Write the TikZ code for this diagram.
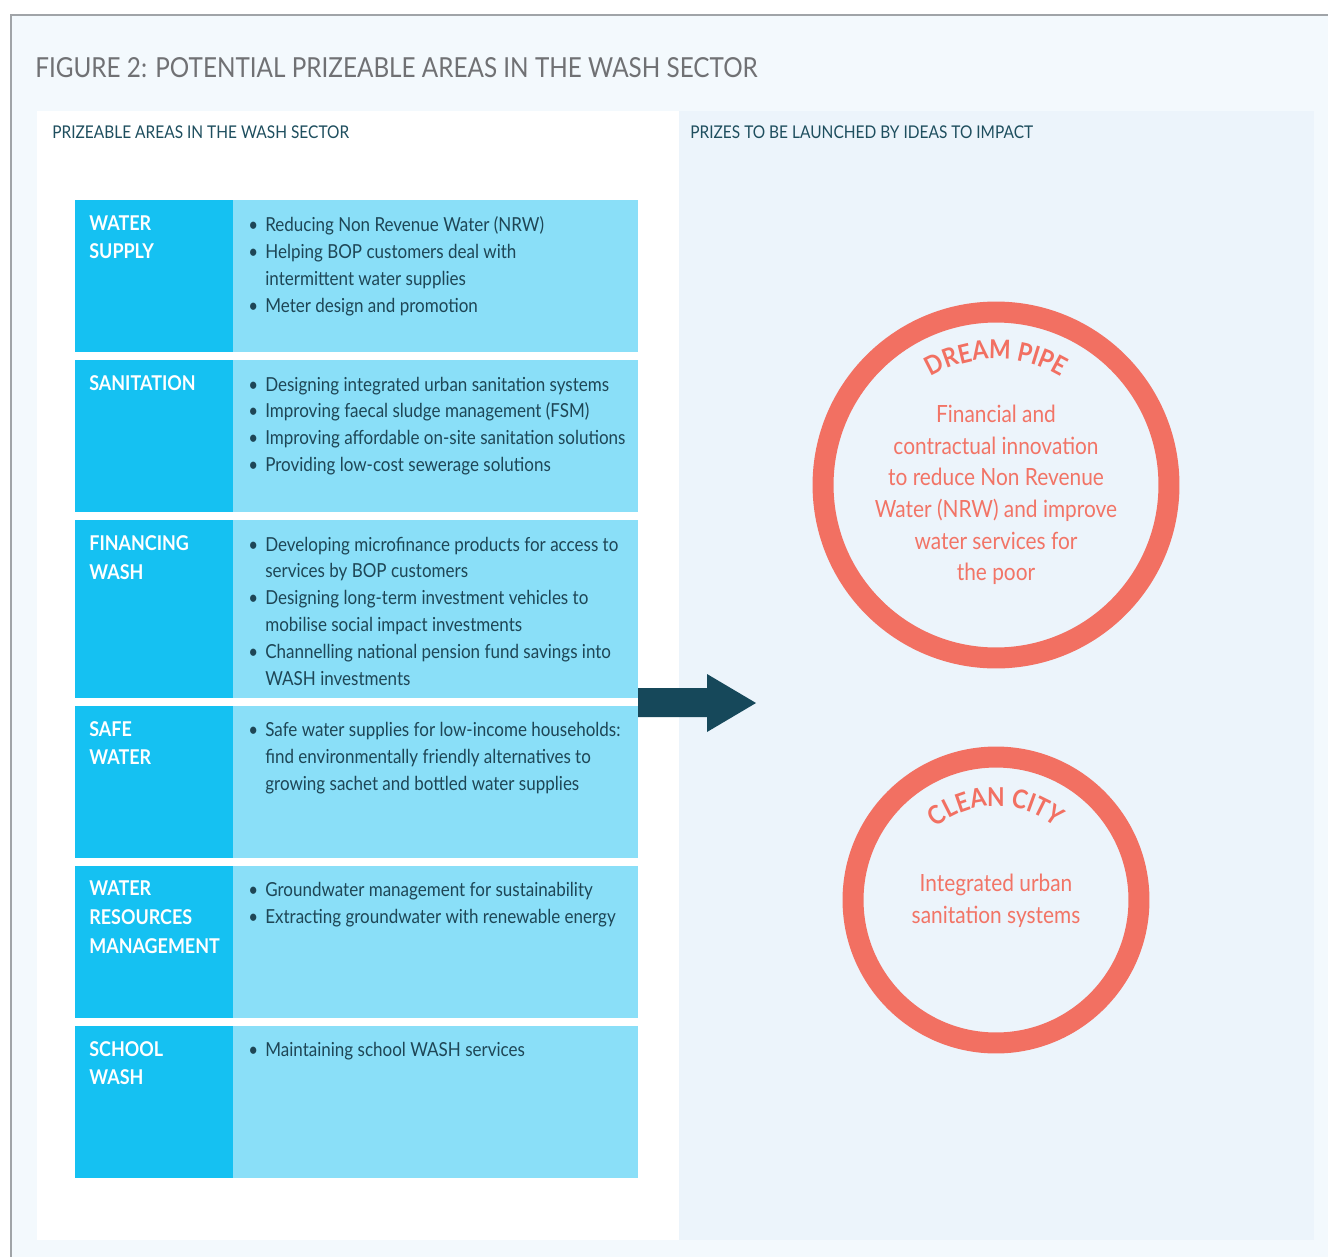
\documentclass[tikz,border=0pt]{standalone}
\usepackage{fontspec}
\setmainfont{Lato}[FakeStretch=0.88]
\usepackage{tikz}
\usetikzlibrary{positioning}
\usetikzlibrary{decorations.text}

\definecolor{outerbg}{HTML}{F3F9FD}
\definecolor{framegray}{HTML}{A0A4A8}
\definecolor{prizebg}{HTML}{ECF4FB}
\definecolor{areadark}{HTML}{15C1F2}
\definecolor{arealight}{HTML}{8ADFF8}
\definecolor{itemtext}{HTML}{1E4656}
\definecolor{titlegray}{HTML}{707174}
\definecolor{subtext}{HTML}{1E4E5E}
\definecolor{coral}{HTML}{F27062}
\definecolor{coraltext}{HTML}{F27466}
\definecolor{arrowteal}{HTML}{16485A}

% bullet and hanging indent for the item lists
\newcommand{\itm}{\makebox[0.34cm][l]{\textbullet}}
\newcommand{\cnt}{\hspace*{0.34cm}}

\begin{document}
\begin{tikzpicture}[x=0.02cm,y=0.02cm,
  area/.style={rectangle,fill=areadark,inner sep=0pt,outer sep=0pt,minimum width=3.16cm,minimum height=3.04cm},
  items/.style={rectangle,fill=arealight,inner sep=0pt,outer sep=0pt,minimum width=8.1cm,anchor=west},
  areatxt/.style={anchor=north west,inner sep=0pt,align=left,text=white,font=\fontsize{11.6}{16.4}\selectfont\bfseries},
  itemtxt/.style={anchor=north west,inner sep=0pt,align=left,text=itemtext,font=\fontsize{11}{15.3}\selectfont},
  subhead/.style={anchor=west,inner sep=0pt,text=subtext,font=\fontsize{10}{12}\selectfont},
  prize/.style={circle,draw=coral,line width=0.42cm,inner sep=0pt},
  prizetxt/.style={align=center,inner sep=0pt,text=coraltext,font=\fontsize{13.5}{18}\selectfont}]

  \useasboundingbox (0,0) rectangle (1328,-1257);

  % background and panels
  \fill[outerbg] (11,-15) rectangle (1340,-1270);
  \draw[framegray,line width=0.03cm] (11,-1270) -- (11,-15) -- (1340,-15);
  \fill[white] (37,-111) rectangle (679,-1240);
  \fill[prizebg] (679,-111) rectangle (1314,-1240);

  \node[anchor=base west,inner sep=0pt,text=titlegray,font=\fontsize{15.7}{18}\selectfont] (title) at (35,-78)
    {FIGURE 2: POTENTIAL PRIZEABLE AREAS IN THE WASH SECTOR};
  \node[subhead] (lefthead) at (52,-132) {PRIZEABLE AREAS IN THE WASH SECTOR};
  \node[subhead] (righthead) at (690,-132) {PRIZES TO BE LAUNCHED BY IDEAS TO IMPACT};

  % rows
  \node[area,anchor=north west] (ws) at (75,-200) {};
  \node[items,minimum height=3.04cm,right=0pt of ws] (wsi) {};
  \node[area,below=0.16cm of ws] (san) {};
  \node[items,minimum height=3.04cm,right=0pt of san] (sani) {};
  \node[area,minimum height=3.56cm,below=0.16cm of san] (fin) {};
  \node[items,minimum height=3.56cm,right=0pt of fin] (fini) {};
  \node[area,below=0.16cm of fin] (sw) {};
  \node[items,minimum height=3.04cm,right=0pt of sw] (swi) {};
  \node[area,below=0.16cm of sw] (wrm) {};
  \node[items,minimum height=3.04cm,right=0pt of wrm] (wrmi) {};
  \node[area,below=0.16cm of wrm] (sch) {};
  \node[items,minimum height=3.04cm,right=0pt of sch] (schi) {};

  \node[areatxt,below right=0.3cm and 0.28cm of ws.north west] (wst) {WATER\\SUPPLY};
  \node[itemtxt,below right=0.33cm and 0.3cm of wsi.north west] (wsit)
    {\itm Reducing Non Revenue Water (NRW)\\
     \itm Helping BOP customers deal with\\
     \cnt intermittent water supplies\\
     \itm Meter design and promotion};

  \node[areatxt,below right=0.3cm and 0.28cm of san.north west] (sant) {SANITATION};
  \node[itemtxt,below right=0.33cm and 0.3cm of sani.north west] (sanit)
    {\itm Designing integrated urban sanitation systems\\
     \itm Improving faecal sludge management (FSM)\\
     \itm Improving affordable on-site sanitation solutions\\
     \itm Providing low-cost sewerage solutions};

  \node[areatxt,below right=0.3cm and 0.28cm of fin.north west] (fint) {FINANCING\\WASH};
  \node[itemtxt,below right=0.33cm and 0.3cm of fini.north west] (finit)
    {\itm Developing microfinance products for access to\\
     \cnt services by BOP customers\\
     \itm Designing long-term investment vehicles to\\
     \cnt mobilise social impact investments\\
     \itm Channelling national pension fund savings into\\
     \cnt WASH investments};

  \node[areatxt,below right=0.3cm and 0.28cm of sw.north west] (swt) {SAFE\\WATER};
  \node[itemtxt,below right=0.33cm and 0.3cm of swi.north west] (swit)
    {\itm Safe water supplies for low-income households:\\
     \cnt find environmentally friendly alternatives to\\
     \cnt growing sachet and bottled water supplies};

  \node[areatxt,below right=0.3cm and 0.28cm of wrm.north west] (wrmt) {WATER\\RESOURCES\\MANAGEMENT};
  \node[itemtxt,below right=0.33cm and 0.3cm of wrmi.north west] (wrmit)
    {\itm Groundwater management for sustainability\\
     \itm Extracting groundwater with renewable energy};

  \node[areatxt,below right=0.3cm and 0.28cm of sch.north west] (scht) {SCHOOL\\WASH};
  \node[itemtxt,below right=0.33cm and 0.3cm of schi.north west] (schit)
    {\itm Maintaining school WASH services};

  % big arrow towards the prizes
  \fill[arrowteal] (638,-688) -- (707,-688) -- (707,-674) -- (756,-703) -- (707,-732) -- (707,-717) -- (638,-717) -- cycle;

  % prizes
  \node[prize,minimum size=6.92cm] (dp) at (996,-485) {};
  \node[prize,minimum size=5.72cm] (cc) at (996,-900) {};
  \path[decorate,decoration={text along path,text align=center,text color=coral,
    text={|\fontsize{14.8}{18}\selectfont\bfseries|DREAM PIPE}}]
    ([shift={(150:2.52cm)}]dp.center) arc (150:30:2.52cm);
  \path[decorate,decoration={text along path,text align=center,text color=coral,
    text={|\fontsize{14.8}{18}\selectfont\bfseries|CLEAN CITY}}]
    ([shift={(160:1.88cm)}]cc.center) arc (160:20:1.88cm);
  \node[prizetxt] (dpt) at (996,-495)
    {Financial and\\contractual innovation\\to reduce Non Revenue\\Water (NRW) and improve\\water services for\\the poor};
  \node[prizetxt] (cct) at (996,-901) {Integrated urban\\sanitation systems};
\end{tikzpicture}
\end{document}
